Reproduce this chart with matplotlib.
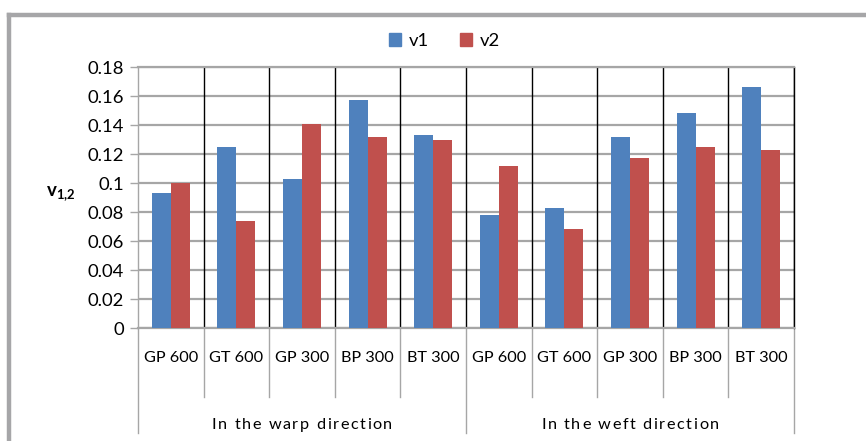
import matplotlib
matplotlib.use('Agg')
import matplotlib.pyplot as plt
from matplotlib.lines import Line2D
from matplotlib.patches import Patch
import numpy as np

plt.rcParams['font.family'] = ['Lato', 'DejaVu Sans']
plt.rcParams['mathtext.fontset'] = 'custom'
plt.rcParams['mathtext.bf'] = 'Lato:bold'
plt.rcParams['mathtext.rm'] = 'Lato'

# v1 / v2 values per sample, warp direction first then weft
samples = ['GP 600', 'GT 600', 'GP 300', 'BP 300', 'BT 300',
           'GP 600', 'GT 600', 'GP 300', 'BP 300', 'BT 300']
groups = ['In the warp direction', 'In the weft direction']
v1 = [0.093, 0.125, 0.103, 0.157, 0.133, 0.078, 0.083, 0.132, 0.148, 0.166]
v2 = [0.100, 0.074, 0.141, 0.132, 0.130, 0.112, 0.068, 0.117, 0.125, 0.123]
yticks = [0, 0.02, 0.04, 0.06, 0.08, 0.1, 0.12, 0.14, 0.16, 0.18]

blue = '#4F81BD'
red = '#C0504D'
grid_gray = '#A6A6A6'

fig = plt.figure(figsize=(8.66, 4.41), dpi=100)
ax = fig.add_axes([0.1594, 0.2562, 0.7575, 0.5918])

x = np.arange(len(samples))
w = 0.29
ax.bar(x - w / 2, v1, width=w, color=blue, label='v1', zorder=3)
ax.bar(x + w / 2, v2, width=w, color=red, label='v2', zorder=3)

ax.set_xlim(-0.5, len(samples) - 0.5)
ax.set_ylim(0, 0.18)
ax.set_yticks(yticks)
ax.set_yticklabels(['0'] + ['%g' % t for t in yticks[1:]], fontsize=13.3)
ax.yaxis.grid(True, color=grid_gray, linewidth=1.6, zorder=0)
ax.set_xticks([])

# black separators between categories inside the plot
for b in np.arange(0.5, len(samples), 1.0):
    ax.axvline(b, color='black', linewidth=1.0, zorder=2)

for side in ['top', 'bottom']:
    ax.spines[side].set_color(grid_gray)
    ax.spines[side].set_linewidth(1.6)
ax.spines['left'].set_color(grid_gray)
ax.spines['left'].set_linewidth(1.0)
ax.spines['right'].set_color('black')
ax.spines['right'].set_linewidth(1.0)
ax.tick_params(axis='y', length=6, width=1.0, color=grid_gray, pad=4)

# two-level category axis below the plot
tr = ax.get_xaxis_transform()
for b in np.arange(-0.5, len(samples), 1.0):
    bottom = -0.402 if b in (-0.5, 4.5, len(samples) - 0.5) else -0.264
    ax.add_line(Line2D([b, b], [0, bottom], transform=tr, color=grid_gray,
                       linewidth=1.0, clip_on=False))
for i, s in enumerate(samples):
    ax.text(i, -0.115, s, transform=tr, ha='center', va='center', fontsize=11.7)


def spaced_text(xc, yc, s, spacing_px, size):
    # draw a string one glyph at a time with extra tracking, centred on xc
    renderer = fig.canvas.get_renderer()
    widths = []
    for k in range(len(s) + 1):
        t = fig.text(0, 0, s[:k] + '|', fontsize=size)
        widths.append(t.get_window_extent(renderer).width)
        t.remove()
    bar_w = widths[0]
    adv = [wd - bar_w for wd in widths]
    total = adv[-1] + spacing_px * (len(s) - 1)
    x0, y0 = ax.transData.transform((xc, 0))[0], tr.transform((0, yc))[1]
    start = x0 - total / 2
    inv = fig.transFigure.inverted()
    for k, ch in enumerate(s):
        px = start + adv[k] + spacing_px * k
        fx, fy = inv.transform((px, y0))
        fig.text(fx, fy, ch, fontsize=size, ha='left', va='center')


for g, name in enumerate(groups):
    spaced_text(2 + 5 * g, -0.372, name, 1.6, 11.7)

ax.set_ylabel(r'$\mathbf{v_{1{,}2}}$', rotation=0, fontsize=13.5)
ax.yaxis.set_label_coords(-0.117, 0.479)

handles = [Patch(color=blue, label='v1'), Patch(color=red, label='v2')]
fig.legend(handles=handles, loc='center', bbox_to_anchor=(0.513, 1 - 41 / 441),
           ncol=2, frameon=False, fontsize=13.3, handlelength=0.65,
           handleheight=0.65, handletextpad=0.4, columnspacing=1.7)

# outer chart frame
fig.add_artist(Line2D([9 / 866, 1], [1 - 15 / 441, 1 - 15 / 441],
                      transform=fig.transFigure, color='#A6A6A8', linewidth=3.2))
fig.add_artist(Line2D([9 / 866, 9 / 866], [0, 1 - 15 / 441],
                      transform=fig.transFigure, color='#A6A6A8', linewidth=3.2))

fig.savefig('out.png', dpi=100)
